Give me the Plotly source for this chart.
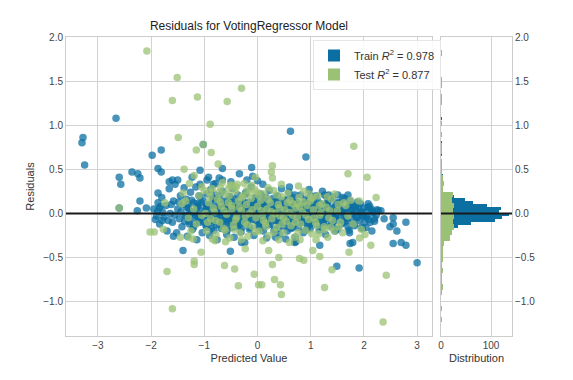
import plotly.graph_objects as go

# ---------------- data ----------------
train_x = [
    -2.66, -3.28, -3.30, -3.25, 0.62, 0.91, -1.81, -1.98, -1.87, -1.81, -2.36, -2.25, -2.21, -2.60, -2.57,
    -1.66, -1.60, -1.08, -0.92, -0.66, -0.11, -0.34, -0.66, -0.83, -1.08, -1.23, -0.09, 0.00, -2.21, -2.26,
    -2.09, -2.60, -1.87, -1.92, -1.40, -0.51, -0.30, 1.49, 1.91, 3.00, 2.55, 2.70, 2.79, 2.79, 2.62,
    2.55, 2.32, 2.08, 1.17, 1.74, 1.79, 2.15, 1.26, 1.34, 1.51, 1.70, 1.32, 0.70, 0.34, 0.53,
    0.72, 2.38, 2.55, 2.49, 2.04, 1.72, 1.47, -1.79, -1.58, -1.87, -1.85, -1.02,
    -1.88, -1.84, -1.80, -1.76, -1.72, -1.70, -1.66, -1.64, -1.60, -1.58, -1.55, -1.52, -1.50, -1.47, -1.45, -1.42, -1.40, -1.38,
    -1.36, -1.34, -1.32, -1.30, -1.28, -1.26, -1.24, -1.22, -1.20, -1.18, -1.16, -1.14, -1.12, -1.10, -1.08, -1.06, -1.04, -1.02,
    -0.98, -0.97, -0.95, -0.93, -0.92, -0.90, -0.88, -0.87, -0.85, -0.84, -0.82, -0.80, -0.79, -0.77, -0.76,
    -0.74, -0.72, -0.71, -0.69, -0.68, -0.66, -0.64, -0.63, -0.61, -0.60, -0.58, -0.56, -0.55, -0.53, -0.52,
    -0.50, -0.48, -0.47, -0.45, -0.44, -0.42, -0.41, -0.39, -0.37, -0.36, -0.34, -0.33, -0.31, -0.30, -0.28, -0.27,
    -0.25, -0.24, -0.22, -0.21, -0.19, -0.18, -0.16, -0.15, -0.13, -0.12, -0.10, -0.09, -0.07, -0.06, -0.04, -0.03, -0.01,
    0.01, 0.03, 0.04, 0.06, 0.08, 0.09, 0.11, 0.12, 0.14, 0.16, 0.17, 0.19, 0.21, 0.22, 0.24,
    0.26, 0.27, 0.29, 0.31, 0.32, 0.34, 0.36, 0.37, 0.39, 0.41, 0.42, 0.44, 0.46, 0.47, 0.49,
    0.51, 0.52, 0.54, 0.56, 0.57, 0.59, 0.61, 0.62, 0.64, 0.66, 0.67, 0.69, 0.71, 0.72, 0.74,
    0.76, 0.77, 0.79, 0.81, 0.82, 0.84, 0.86, 0.87, 0.89, 0.91, 0.92, 0.94, 0.96, 0.97, 0.99,
    1.01, 1.03, 1.05, 1.07, 1.08, 1.10, 1.12, 1.14, 1.16, 1.18, 1.20, 1.22, 1.24, 1.26, 1.28,
    1.30, 1.32, 1.34, 1.36, 1.38, 1.40, 1.42, 1.44, 1.46, 1.48,
    1.52, 1.55, 1.58, 1.61, 1.64, 1.67, 1.70, 1.73, 1.76, 1.79, 1.82, 1.85, 1.88, 1.91, 1.94, 1.97, 2.00, 2.04, 2.08, 2.12, 2.16, 2.20, 2.25,
    -0.95, -0.72, -0.50, -0.20, 0.10, 0.45, 0.60, -1.50,
    -0.96, -0.91, -0.86, -0.81, -0.75, -0.70, -0.65, -0.59, -0.54, -0.49, -0.43, -0.38, -0.32, -0.26, -0.20, -0.14, -0.08, -0.02,
    0.02, 0.07, 0.13, 0.18, 0.23, 0.28, 0.33, 0.38, 0.43, 0.48, 0.53, 0.58, 0.63, 0.68, 0.73, 0.78, 0.83, 0.88, 0.93, 0.98,
    1.04, 1.09, 1.15, 1.21, 1.27, 1.33, 1.39, 1.45, 1.54, 1.63, 1.72, 1.81, 1.90, 1.99,
    -1.24, -1.06, -0.83, -0.66, -0.44, -0.27, -0.04, 0.16, 0.33, 0.57, 0.74, 0.96, 1.13, 1.37, 1.56, 1.74,
    -1.14, -0.96, -0.74, -0.57, -0.34, -0.16, 0.06, 0.24, 0.46, 0.64, 0.86, 1.04, 1.26, 1.44, 1.66, 1.84, 2.06,
    -1.21, -1.03, -0.81, -0.63, -0.41, -0.23, -0.01, 0.19, 0.37, 0.59, 0.77, 0.99, 1.17, 1.39, 1.57, 1.79, 1.97, 2.17,
    -1.11, -0.93, -0.71, -0.53, -0.31, -0.13, 0.09, 0.27, 0.49, 0.67, 0.89, 1.07, 1.29, 1.47, 1.69, 1.87, 2.09,
    -1.17, -0.99, -0.77, -0.59, -0.37, -0.19, 0.03, 0.21, 0.43, 0.61, 0.83, 1.01, 1.23, 1.41, 1.63, 1.81,
    -0.87, -0.57, -0.29, 0.03, 0.31, 0.63, 0.91, 1.23, 1.51,
    -1.95, -1.90, -1.82, -1.78, -1.68, -1.62, -1.56, -1.48, -1.44, -1.37, -1.33, -1.29,
    -1.31, -1.13, -0.92, -0.71, -0.49, -0.30, -0.08, 0.12, 0.34, 0.52, 0.71, 0.93, 1.12, 1.31, 1.53, 1.71, 1.93, 2.11,
    -1.27, -1.09, -0.88, -0.67, -0.46, -0.26, -0.06, 0.14, 0.35, 0.55, 0.75, 0.95, 1.14, 1.34, 1.55, 1.75, 1.95, 2.15, 2.27,
    -1.34, -1.16, -0.96, -0.76, -0.55, -0.35, -0.15, 0.05, 0.25, 0.45, 0.66, 0.86, 1.06, 1.25, 1.46, 1.66, 1.86, 2.06, 2.23,
    -1.29, -1.08, -0.87, -0.66, -0.46, -0.24, -0.03, 0.17, 0.38, 0.58, 0.79, 0.99, 1.19, 1.40, 1.60, 1.80, 2.01, 2.20,
    -1.20, -0.95, -0.68, -0.42, -0.14, 0.12, 0.40, 0.66, 0.94, 1.18, 1.44, 1.70, 1.95,
    -1.10, -0.80, -0.52, -0.22, 0.08, 0.38, 0.70, 1.00, 1.30, 1.60,
]
train_y = [
    1.08, 0.86, 0.80, 0.55, 0.93, 0.64, 0.72, 0.66, 0.51, 0.47, 0.47, 0.45, 0.40, 0.41, 0.33,
    0.36, 0.38, 0.49, 0.41, 0.51, 0.52, 0.45, 0.38, 0.33, 0.33, 0.41, 0.42, 0.37, 0.14, 0.03,
    0.06, 0.06, 0.23, -0.07, -0.42, -0.43, -0.33, -0.60, -0.62, -0.56, -0.34, -0.33, -0.36, -0.10, -0.20,
    -0.05, 0.03, 0.07, -0.36, -0.34, -0.33, -0.20, 0.21, 0.21, 0.21, 0.21, 0.12, -0.33, -0.27, -0.29,
    -0.32, -0.06, -0.12, -0.15, -0.16, -0.19, -0.08, -0.08, -0.26, 0.12, 0.06, 0.78,
    0.02, -0.12, 0.18, -0.04, 0.09, -0.20, 0.28, 0.00, -0.10, 0.14, 0.33, -0.22, 0.05, -0.06, 0.20, -0.15, 0.10, 0.29,
    -0.02, 0.16, -0.26, 0.06, -0.12, 0.24, 0.01, -0.18, 0.12, -0.05, 0.30, -0.30, 0.08, -0.09, 0.19, -0.02, -0.22, 0.14,
    0.03, -0.14, 0.22, -0.06, 0.10, -0.25, 0.27, 0.00, -0.10, 0.16, -0.19, 0.06, 0.34, -0.03, -0.30,
    0.12, -0.12, 0.20, 0.02, -0.08, 0.25, -0.17, 0.08, -0.02, 0.14, -0.24, 0.04, -0.11, 0.19, -0.05,
    0.09, -0.16, 0.28, 0.00, -0.27, 0.13, -0.08, 0.05, 0.21, -0.02, -0.13, 0.10, -0.21, 0.01, 0.16, -0.06,
    0.07, -0.33, 0.24, -0.03, -0.11, 0.04, 0.13, -0.18, 0.00, 0.30, -0.07, 0.09, -0.25, 0.02, 0.18, -0.04, 0.11,
    -0.14, 0.05, -0.02, 0.22, -0.09, 0.08, -0.20, 0.01, 0.14, -0.05, -0.28, 0.10, -0.01, 0.26, -0.12,
    0.04, -0.07, 0.17, 0.00, -0.18, 0.09, -0.03, 0.20, -0.10, 0.06, -0.24, 0.12, -0.01, 0.03, -0.15,
    0.15, -0.04, 0.07, -0.20, 0.01, 0.24, -0.09, 0.10, -0.02, 0.18, -0.13, 0.04, -0.27, 0.13, -0.05,
    0.08, -0.16, 0.00, 0.21, -0.08, 0.06, -0.22, 0.11, -0.02, 0.16, -0.11, 0.03, -0.06, 0.27, -0.17,
    0.07, -0.03, 0.14, -0.12, 0.01, 0.20, -0.07, 0.05, -0.19, 0.11, -0.01, 0.25, -0.10, 0.03, -0.24,
    0.09, -0.04, 0.15, -0.14, 0.02, 0.19, -0.07, 0.06, -0.20, 0.12,
    -0.02, 0.08, -0.12, 0.03, 0.17, -0.06, 0.05, -0.22, 0.10, -0.01, -0.14, 0.04, 0.13, -0.08, 0.01, -0.17, 0.06, -0.04, 0.11, -0.10, 0.02, -0.06, 0.04,
    0.38, 0.40, 0.36, 0.38, 0.33, 0.28, 0.30, 0.38,
    0.07, -0.03, 0.09, -0.07, 0.04, -0.10, 0.05, -0.06, 0.11, -0.03, 0.06, -0.10, 0.03, 0.10, -0.08, 0.06, -0.02, 0.07,
    -0.06, 0.12, -0.03, 0.06, -0.05, 0.09, -0.08, 0.04, -0.06, 0.09, -0.10, 0.05, -0.05, 0.11, -0.01, 0.07, -0.03, 0.05, -0.08, 0.10,
    -0.06, 0.06, -0.03, 0.08, -0.06, 0.05, -0.03, 0.02, 0.12, -0.04, 0.09, 0.07, 0.06, -0.03,
    0.15, 0.12, 0.17, 0.13, 0.16, 0.12, 0.15, 0.18, 0.13, 0.16, 0.12, 0.15, 0.14, 0.17, 0.12, 0.14,
    0.06, 0.08, 0.05, 0.07, 0.09, 0.04, 0.06, 0.08, 0.05, 0.07, 0.06, 0.09, 0.04, 0.07, 0.05, 0.08, 0.03,
    0.01, -0.01, 0.02, 0.00, -0.02, 0.01, 0.02, -0.01, 0.00, 0.02, -0.02, 0.01, 0.00, -0.01, 0.02, 0.00, -0.02, 0.01,
    -0.05, -0.07, -0.04, -0.08, -0.06, -0.05, -0.07, -0.04, -0.06, -0.08, -0.05, -0.07, -0.06, -0.04, -0.08, -0.05, -0.07,
    -0.12, -0.10, -0.13, -0.11, -0.14, -0.10, -0.12, -0.13, -0.11, -0.14, -0.10, -0.12, -0.13, -0.11, -0.10, -0.12,
    -0.17, -0.19, -0.16, -0.18, -0.20, -0.17, -0.19, -0.16, -0.18,
    0.05, -0.03, 0.08, 0.01, -0.08, 0.10, -0.02, 0.13, 0.02, -0.09, 0.07, -0.03,
    0.10, 0.11, 0.09, 0.12, 0.10, 0.08, 0.11, 0.10, 0.12, 0.09, 0.11, 0.10, 0.08, 0.12, 0.10, 0.09, 0.11, 0.08,
    0.03, 0.04, 0.02, 0.03, 0.05, 0.02, 0.04, 0.03, 0.02, 0.04, 0.03, 0.05, 0.02, 0.03, 0.04, 0.03, 0.02, 0.04, 0.03,
    -0.03, -0.02, -0.04, -0.03, -0.02, -0.04, -0.03, -0.02, -0.03, -0.04, -0.02, -0.03, -0.04, -0.02, -0.03, -0.02, -0.04, -0.03, -0.02,
    -0.09, -0.10, -0.08, -0.09, -0.10, -0.09, -0.08, -0.10, -0.09, -0.08, -0.10, -0.09, -0.08, -0.10, -0.09, -0.08, -0.10, -0.09,
    -0.15, -0.16, -0.17, -0.15, -0.16, -0.15, -0.17, -0.16, -0.15, -0.16, -0.17, -0.15, -0.16,
    0.20, 0.21, 0.19, 0.22, 0.20, 0.19, 0.21, 0.20, 0.19, 0.18,
]

test_x = [
    -2.08, -1.51, -1.60, -1.13, -0.57, -0.30, -0.89, -1.49, -1.02, -1.15, -0.87, -0.74, -1.38, -1.19, -1.28,
    1.81, 1.70, 2.06, 2.23, 0.28, 0.26, 0.28, 0.45, 0.77, -0.04, -2.60, -2.02, -1.94, -1.77, -1.70,
    -1.60, -1.19, -1.19, -1.06, -0.62, -0.43, -0.36, -0.06, 0.02, 0.08, 0.32, 0.43, 0.45, 0.28, 0.21,
    0.40, 0.79, 0.87, 1.04, 1.17, 1.40, 1.26, 2.42, 2.36, 2.13, 1.72, 1.92, 2.02, -1.45, -1.30,
    -0.85, -0.23, -0.51, -0.38, -0.11, -0.66, -1.40, -1.42, -1.74, -1.21, 1.04, 1.91, 1.75, 1.66, 1.32,
    1.15, 1.38, 1.53, 0.75, -0.25, -0.49,
    -1.20, -1.15, -1.10, -1.05, -1.00, -0.96, -0.92, -0.88, -0.85, -0.81, -0.78, -0.75, -0.71, -0.68, -0.64,
    -0.61, -0.58, -0.55, -0.52, -0.48, -0.45, -0.42, -0.39, -0.36, -0.33, -0.30, -0.27, -0.24, -0.21, -0.18,
    -0.15, -0.12, -0.09, -0.06, -0.03, 0.00, 0.03, 0.06, 0.09, 0.12, 0.15, 0.18, 0.21, 0.24, 0.27,
    0.30, 0.33, 0.36, 0.39, 0.42, 0.45, 0.48, 0.51, 0.54, 0.57, 0.60, 0.63, 0.66, 0.69, 0.72,
    0.75, 0.78, 0.81, 0.84, 0.87, 0.90, 0.93, 0.96, 0.99, 1.02, 1.05, 1.09, 1.13, 1.17, 1.21,
    1.25, 1.29, 1.34, 1.39, 1.44, 1.50, 1.56, 1.62, 1.70, 1.80, 1.95,
    -1.05, -0.90, -0.70, -0.55, -0.40, -0.20, 0.00, 0.20, -0.80, -0.60, -0.30, 0.10, 0.40, 0.60, 0.80,
    -1.30, -1.35, -1.25, 1.10, 1.45, 1.60,
    -0.98, -0.89, -0.79, -0.70, -0.61, -0.49, -0.41, -0.29, -0.19, -0.10, 0.01, 0.11, 0.19, 0.31, 0.41,
    0.49, 0.61, 0.71, 0.79, 0.91, 1.01, 1.11, 1.19, 1.31, 1.41,
    -0.94, -0.83, -0.73, -0.63, -0.53, -0.44, -0.34, -0.23, -0.14, -0.04, 0.07, 0.16, 0.26, 0.36, 0.46,
    0.56, 0.66, 0.76, 0.86, 0.96, 1.06, 1.16, 1.26, 1.36, 1.52,
]
test_y = [
    1.84, 1.54, 1.28, 1.32, 1.27, 1.42, 1.01, 0.86, 0.78, 0.72, 0.69, 0.56, 0.50, 0.43, 0.34,
    0.76, 0.45, 0.41, 0.18, 0.54, 0.47, 0.40, 0.33, 0.31, 0.41, 0.06, -0.21, -0.21, -0.18, -0.66,
    -1.08, -0.54, -0.58, -0.44, -0.59, -0.63, -0.82, -0.69, -0.81, -0.81, -0.75, -0.81, -0.92, -0.58, -0.42,
    -0.50, -0.51, -0.53, -0.42, -0.49, -0.64, -0.84, -0.70, -1.23, -0.36, -0.44, -0.28, -0.24, -0.27, -0.27,
    -0.29, -0.40, 0.32, 0.33, 0.32, 0.35, 0.23, 0.11, 0.12, -0.29, 0.18, 0.14, 0.15, 0.09, -0.27,
    -0.23, -0.16, -0.15, 0.11, 0.34, 0.32,
    0.05, -0.12, 0.20, -0.02, 0.26, -0.20, 0.12, -0.06, 0.28, 0.02, -0.24, 0.16, -0.10, 0.08, -0.17,
    0.22, -0.01, 0.12, -0.28, 0.05, -0.13, 0.25, -0.04, 0.14, -0.22, 0.03, 0.20, -0.10, 0.10, -0.26,
    0.00, 0.17, -0.15, 0.27, -0.05, 0.08, -0.20, 0.15, -0.02, 0.22, -0.11, 0.05, -0.25, 0.12, -0.06,
    0.26, 0.00, -0.16, 0.10, -0.03, 0.19, -0.22, 0.04, -0.09, 0.23, 0.01, -0.14, 0.11, -0.27, 0.06,
    -0.04, 0.18, -0.12, 0.02, 0.25, -0.19, 0.09, -0.07, 0.14, -0.23, 0.04, -0.10, 0.20, -0.02, 0.11,
    -0.15, 0.07, -0.05, 0.16, -0.20, 0.03, -0.10, 0.12, -0.03, -0.12, -0.18,
    0.30, 0.24, 0.29, 0.28, 0.30, 0.26, 0.24, 0.29, -0.31, -0.32, -0.30, -0.31, -0.30, -0.33, -0.30,
    -0.05, 0.14, -0.20, -0.30, 0.22, -0.22,
    0.00, 0.19, -0.08, 0.13, -0.19, 0.09, -0.07, 0.18, -0.13, 0.04, 0.21, -0.08, 0.16, -0.21, 0.06,
    -0.05, 0.15, -0.10, 0.08, -0.02, 0.17, -0.14, 0.01, 0.19, -0.08,
    -0.10, 0.06, 0.23, 0.03, 0.20, -0.18, 0.07, -0.03, 0.23, -0.21, 0.03, -0.15, 0.02, 0.21, -0.12,
    0.12, -0.02, -0.22, 0.13, 0.22, -0.05, 0.09, -0.18, 0.03, 0.10,
]

# histogram of residuals (bin start, bin width, counts)
train_bin_start = -0.612
train_bin_width = 0.034
train_counts = [1, 1, 0, 0, 0, 2, 0, 3, 5, 7, 9, 14, 22, 34, 59, 108, 121, 135, 116, 119,
                91, 63, 48, 26, 14, 3, 2, 3, 3, 3, 3, 2, 2, 2, 1, 0, 0, 1, 1, 0,
                1, 1, 0, 0, 0, 0, 0, 0, 0, 1]
test_bin_start = -1.235
test_bin_width = 0.0617
test_counts = [1, 0, 1, 0, 0, 1, 4, 1, 2, 3, 2, 4, 3, 3, 5, 18, 22, 25, 24, 26,
               23, 26, 21, 23, 3, 5, 3, 2, 2, 1, 0, 2, 2, 0, 1, 0, 1, 0, 0, 0,
               1, 1, 0, 1, 1, 0, 0, 0, 0, 1]

train_label = "Train <i>R</i><sup>2</sup> = 0.978"
test_label = "Test <i>R</i><sup>2</sup> = 0.877"
title_text = "Residuals for VotingRegressor Model"
x_ticks = [-3, -2, -1, 0, 1, 2, 3]
y_ticks = [-1.0, -0.5, 0.0, 0.5, 1.0, 1.5, 2.0]
hist_ticks = [0, 100]

# ---------------- styles ----------------
TRAIN_C = "#0b6fa1"
TEST_C = "#9bc274"
GRID_C = "#d2d2d2"
FONT = "Liberation Sans, Arial, sans-serif"
W, H = 573, 380

train_centers = [train_bin_start + train_bin_width * (i + 0.5) for i in range(len(train_counts))]
test_centers = [test_bin_start + test_bin_width * (i + 0.5) for i in range(len(test_counts))]

fig = go.Figure()

fig.add_trace(go.Scatter(x=train_x, y=train_y, mode="markers", xaxis="x", yaxis="y",
                         marker=dict(size=7.5, color=TRAIN_C, opacity=0.75, line=dict(width=0)),
                         showlegend=False, hoverinfo="skip"))
fig.add_trace(go.Scatter(x=test_x, y=test_y, mode="markers", xaxis="x", yaxis="y",
                         marker=dict(size=7.5, color=TEST_C, opacity=0.75, line=dict(width=0)),
                         showlegend=False, hoverinfo="skip"))

fig.add_trace(go.Bar(x=train_counts, y=train_centers, orientation="h", width=train_bin_width,
                     xaxis="x2", yaxis="y2", marker=dict(color=TRAIN_C, line=dict(width=0)),
                     name=train_label, showlegend=True))
fig.add_trace(go.Bar(x=test_counts, y=test_centers, orientation="h", width=test_bin_width,
                     xaxis="x2", yaxis="y2", marker=dict(color=TEST_C, line=dict(width=0)),
                     name=test_label, showlegend=True))

main_dom = [66 / W, 432 / W]
hist_dom = [441 / W, 512 / W]
y_dom = [1 - 336 / H, 1 - 37 / H]

axis_common = dict(showgrid=True, gridcolor=GRID_C, gridwidth=1, zeroline=False,
                   showline=True, linecolor="#cccccc", linewidth=1, mirror=True,
                   ticks="", tickfont=dict(size=10, color="#444444", family=FONT))

fig.update_layout(
    width=W, height=H,
    margin=dict(l=0, r=0, t=0, b=0, autoexpand=False),
    paper_bgcolor="white", plot_bgcolor="white",
    font=dict(family=FONT, size=11, color="#333333"),
    barmode="overlay", bargap=0,
    xaxis=dict(domain=main_dom, range=[-3.6, 3.28], tickvals=x_ticks, anchor="y",
               title=dict(text="Predicted Value", font=dict(size=11), standoff=4), **axis_common),
    yaxis=dict(domain=y_dom, range=[-1.39, 2.0], tickvals=y_ticks, tickformat=".1f", anchor="x",
               title=dict(text="Residuals", font=dict(size=11), standoff=6), **axis_common),
    xaxis2=dict(domain=hist_dom, range=[0, 142], tickvals=hist_ticks, anchor="y2",
                title=dict(text="Distribution", font=dict(size=11), standoff=4), **axis_common),
    yaxis2=dict(domain=y_dom, range=[-1.39, 2.0], tickvals=y_ticks, tickformat=".1f", anchor="x2",
                side="right", matches="y", showticklabels=True, **axis_common),
    legend=dict(x=313 / W, y=1 - 40 / H, xanchor="left", yanchor="top",
                bgcolor="rgba(255,255,255,0.85)", bordercolor="#e6e6e6", borderwidth=1,
                font=dict(size=11, color="#333333"), traceorder="normal"),
    title=dict(text=title_text, x=249 / W, y=1 - 26 / H, xanchor="center", yanchor="middle",
               font=dict(size=12, color="#222222")),
    shapes=[
        dict(type="line", xref="x domain", yref="y", x0=0, x1=1, y0=0, y1=0,
             line=dict(color="#1a1a1a", width=2)),
        dict(type="line", xref="x2 domain", yref="y2", x0=0, x1=1, y0=0, y1=0,
             line=dict(color="#1a1a1a", width=2)),
    ],
)

fig.write_html("out.html", config={"displayModeBar": False},
               post_script="document.body.style.margin='0';")
